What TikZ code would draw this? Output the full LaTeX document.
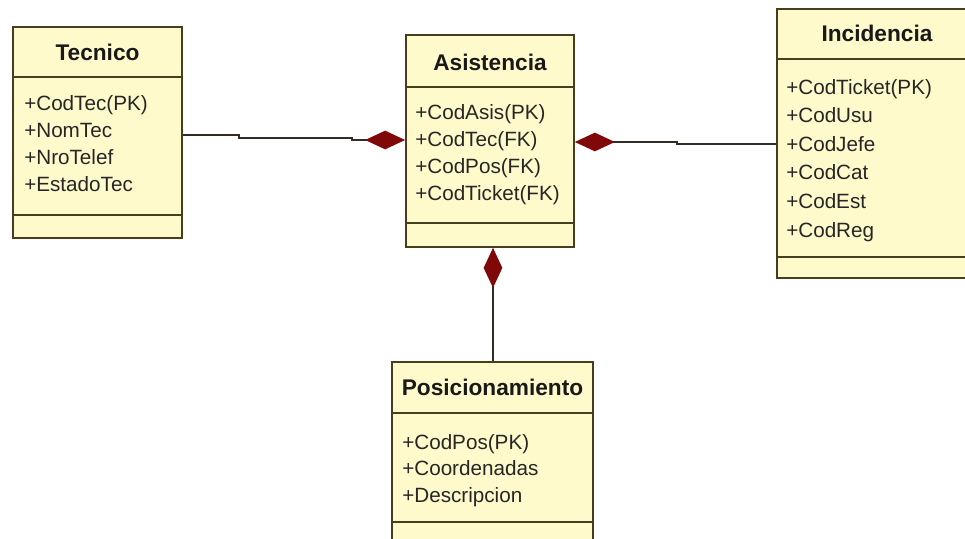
\documentclass[tikz,border=0pt]{standalone}
\usepackage{fontspec}
\setmainfont{Liberation Sans}
\usetikzlibrary{arrows.meta,fit}
\definecolor{clsfill}{RGB}{255,250,204}
\definecolor{clsline}{RGB}{72,62,30}
\definecolor{linkline}{RGB}{50,44,36}
\definecolor{diamondred}{RGB}{128,8,8}
\tikzset{
  classbox/.style={draw=clsline, fill=clsfill, line width=1.3pt, inner sep=0pt},
  sepline/.style={draw=clsline, line width=1.2pt},
  classtitle/.style={inner sep=0pt, font=\fontsize{17}{20}\selectfont\bfseries, text=black!90},
  attr/.style={anchor=base west, inner sep=0pt, font=\fontsize{15.5}{18}\selectfont, text=black!85},
  link/.style={draw=linkline, line width=1pt},
  compo/.style={link, -{Diamond[length=30pt,width=14pt,fill=diamondred,color=diamondred]}},
}
\begin{document}
\begin{tikzpicture}[x=0.75pt,y=-0.75pt]
\useasboundingbox (0,0) rectangle (965,539);
\fill[white] (0,0) rectangle (965,539);
\clip (0,0) rectangle (965,539);

% Tecnico
\node[classbox, fit={(13,27) (182,238)}] (tec) {};
\draw[sepline] (13,77) -- (182,77);
\draw[sepline] (13,215) -- (182,215);
\node[classtitle] (tec-t) at (97.5,52) {Tecnico};
\foreach \t [count=\i] in {+CodTec(PK),+NomTec,+NroTelef,+EstadoTec}
  \node[attr] (tec-a\i) at (24,{110+27*(\i-1)}) {\t};

% Asistencia
\node[classbox, fit={(406,35) (574,247)}] (asis) {};
\draw[sepline] (406,87) -- (574,87);
\draw[sepline] (406,223) -- (574,223);
\node[classtitle] (asis-t) at (490,62) {Asistencia};
\foreach \t [count=\i] in {+CodAsis(PK),+CodTec(FK),+CodPos(FK),+CodTicket(FK)}
  \node[attr] (asis-a\i) at (415,{119+27*(\i-1)}) {\t};

% Incidencia
\node[classbox, fit={(777,9) (977,278)}] (inc) {};
\draw[sepline] (777,59) -- (977,59);
\draw[sepline] (777,257) -- (977,257);
\node[classtitle] (inc-t) at (877,33) {Incidencia};
\foreach \t [count=\i] in {+CodTicket(PK),+CodUsu,+CodJefe,+CodCat,+CodEst,+CodReg}
  \node[attr] (inc-a\i) at (786,{94+28.6*(\i-1)}) {\t};

% Posicionamiento
\node[classbox, fit={(392,362) (593,570)}] (pos) {};
\draw[sepline] (392,413) -- (593,413);
\draw[sepline] (392,522) -- (593,522);
\node[classtitle] (pos-t) at (492.5,387) {Posicionamiento};
\foreach \t [count=\i] in {+CodPos(PK),+Coordenadas,+Descripcion}
  \node[attr] (pos-a\i) at (402,{449+26.5*(\i-1)}) {\t};

% Composition links
\coordinate (a1) at (239,135);
\coordinate (a2) at (239,138);
\coordinate (a3) at (352,138);
\coordinate (a4) at (352,140);
\draw[compo] (tec.east |- a1) -- (a1) -- (a2) -- (a3) -- (a4) -- (asis.west |- a4);

\coordinate (b1) at (677,142);
\coordinate (b2) at (677,144);
\draw[compo] (inc.west |- b2) -- (b2) -- (b1) -- (asis.east |- b1);

\coordinate (c1) at (493,300);
\draw[compo] (pos.north -| c1) -- (asis.south -| c1);
\end{tikzpicture}
\end{document}
